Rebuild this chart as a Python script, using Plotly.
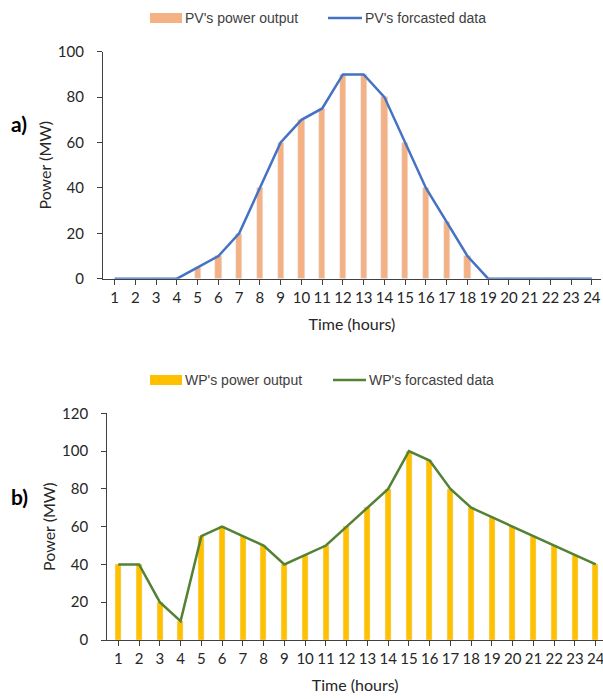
import plotly.graph_objects as go

hours = list(range(1, 25))
pv_output = [0, 0, 0, 0, 5, 10, 20, 40, 60, 70, 75, 90, 90, 80, 60, 40, 25, 10, 0, 0, 0, 0, 0, 0]
pv_forecast = [0, 0, 0, 0, 5, 10, 20, 40, 60, 70, 75, 90, 90, 80, 60, 40, 25, 10, 0, 0, 0, 0, 0, 0]
wp_output = [40, 40, 20, 10, 55, 60, 55, 50, 40, 45, 50, 60, 70, 80, 100, 95, 80, 70, 65, 60, 55, 50, 45, 40]
wp_forecast = [40, 40, 20, 10, 55, 60, 55, 50, 40, 45, 50, 60, 70, 80, 100, 95, 80, 70, 65, 60, 55, 50, 45, 40]

W, H = 603, 699
PV_BAR = "#F4B183"
PV_LINE = "#4472C4"
WP_BAR = "#FFC000"
WP_LINE = "#548235"
AX = "#404040"
TICKFONT = dict(family="Lato, Carlito, sans-serif", size=15, color="#262626")
TITLEFONT = dict(family="Lato, Carlito, sans-serif", size=16, color="#262626")

def py(p):
    return 1 - p / H

def px(p):
    return p / W

fig = go.Figure()
fig.add_trace(go.Bar(x=hours, y=pv_output, name="PV's power output", marker_color=PV_BAR,
                     width=0.3, xaxis="x", yaxis="y", showlegend=False))
fig.add_trace(go.Scatter(x=hours, y=pv_forecast, name="PV's forcasted data", mode="lines",
                         line=dict(color=PV_LINE, width=2.5), xaxis="x", yaxis="y", showlegend=False))
fig.add_trace(go.Bar(x=hours, y=wp_output, name="WP's power output", marker_color=WP_BAR,
                     width=0.29, xaxis="x2", yaxis="y2", showlegend=False))
fig.add_trace(go.Scatter(x=hours, y=wp_forecast, name="WP's forcasted data", mode="lines",
                         line=dict(color=WP_LINE, width=2.5), xaxis="x2", yaxis="y2", showlegend=False))

xcommon = dict(tickmode="array", tickvals=hours, ticks="outside", ticklen=5, tickcolor=AX,
               showline=True, linecolor=AX, linewidth=1.3, showgrid=False, zeroline=False,
               tickfont=TICKFONT, layer="below traces", automargin=False,
               ticklabeloverflow="allow", title_font=TITLEFONT)
ycommon = dict(ticks="outside", ticklen=5, tickcolor=AX, showline=True, linecolor=AX, linewidth=1.3,
               showgrid=False, zeroline=False, tickfont=TICKFONT, ticklabelstandoff=10, automargin=False,
               title_font=TITLEFONT)

fig.update_layout(
    width=W, height=H, margin=dict(l=0, r=0, t=0, b=0, autoexpand=False),
    paper_bgcolor="white", plot_bgcolor="white",
    bargap=0,
    xaxis=dict(domain=[px(103), px(601)], range=[0.436, 24.44], anchor="y",
               title=dict(text="Time (hours)", standoff=13), **xcommon),
    yaxis=dict(domain=[py(278.7), py(51.7)], range=[0, 100], dtick=20, anchor="x",
               title=dict(text="Power (MW)", standoff=2), **ycommon),
    xaxis2=dict(domain=[px(107.3), 1.0], range=[0.47, 24.35], anchor="y2",
                title=dict(text="Time (hours)", standoff=13), **xcommon),
    yaxis2=dict(domain=[py(640), py(413.3)], range=[0, 120], dtick=20, anchor="x2",
                title=dict(text="Power (MW)", standoff=2), **ycommon),
)

# Legends (drawn as swatches + text)
LEGFONT = dict(family="Liberation Sans, Arial, sans-serif", size=14, color="#404040")
shapes = []
annotations = []

def legend(yc, bar_color, line_color, bar_text, line_text, bx0, bx1, lx0, lx1):
    shapes.append(dict(type="rect", xref="paper", yref="paper", x0=px(bx0), x1=px(bx1),
                       y0=py(yc + 5), y1=py(yc - 5), fillcolor=bar_color, line_width=0))
    shapes.append(dict(type="line", xref="paper", yref="paper", x0=px(lx0), x1=px(lx1),
                       y0=py(yc), y1=py(yc), line=dict(color=line_color, width=2.5)))
    annotations.append(dict(text=bar_text, xref="paper", yref="paper", x=px(bx1 + 1), y=py(yc),
                            xanchor="left", yanchor="middle", showarrow=False, font=LEGFONT))
    annotations.append(dict(text=line_text, xref="paper", yref="paper", x=px(lx1 + 1), y=py(yc),
                            xanchor="left", yanchor="middle", showarrow=False, font=LEGFONT))

legend(18, PV_BAR, PV_LINE, "PV's power output", "PV's forcasted data", 150, 182, 328, 362)
legend(380, WP_BAR, WP_LINE, "WP's power output", "WP's forcasted data", 150, 182, 333, 366)

annotations.append(dict(text="<b>a)</b>", xref="paper", yref="paper", x=px(19), y=py(124),
                        xanchor="center", yanchor="middle", showarrow=False,
                        font=dict(family="Lato, Carlito, sans-serif", size=21, color="black")))
annotations.append(dict(text="<b>b)</b>", xref="paper", yref="paper", x=px(19), y=py(496),
                        xanchor="center", yanchor="middle", showarrow=False,
                        font=dict(family="Lato, Carlito, sans-serif", size=21, color="black")))

fig.update_layout(shapes=shapes, annotations=annotations)
fig.write_html("out.html", config={"displayModeBar": False},
               post_script="document.body.style.margin='0';document.body.style.overflow='hidden';")
